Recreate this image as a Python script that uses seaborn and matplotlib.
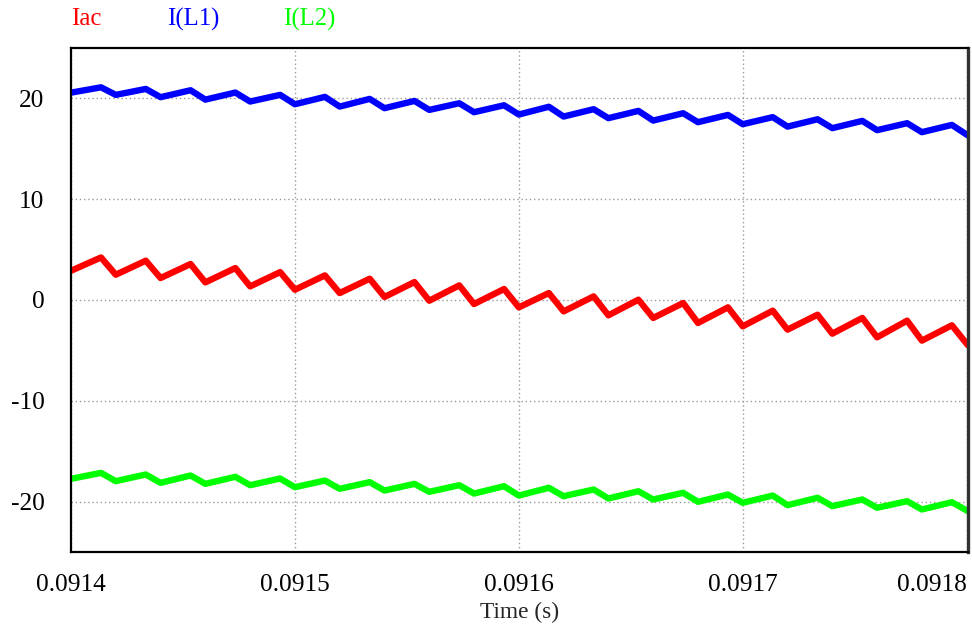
import numpy as np
import pandas as pd
import matplotlib
matplotlib.use("Agg")
import matplotlib.pyplot as plt
import seaborn as sns

# Switching instants (microseconds after t = 0.0914 s): start, then peak / trough pairs
t_start_us = 0.0
peak_us = [13.4, 33.4, 53.4, 73.4, 93.4, 113.4, 133.4, 153.4, 173.4, 193.4,
           213.4, 233.4, 253.4, 273.4, 293.4, 313.4, 333.4, 353.4, 373.4, 393.4]
trough_us = [20.0, 40.0, 60.0, 80.0, 100.0, 120.0, 140.0, 160.0, 180.0, 200.0,
             220.0, 240.0, 260.0, 280.0, 300.0, 320.0, 340.0, 360.0, 380.0, 400.6]

# Iac
iac_start = 2.9
iac_peaks = [4.22, 3.90, 3.57, 3.17, 2.77, 2.44, 2.11, 1.78, 1.45, 1.09,
             0.69, 0.36, 0.03, -0.30, -0.73, -1.06, -1.46, -1.78, -2.05, -2.51]
iac_troughs = [2.51, 2.18, 1.75, 1.35, 1.02, 0.69, 0.30, -0.07, -0.40, -0.73,
               -1.13, -1.52, -1.78, -2.28, -2.61, -2.94, -3.34, -3.70, -4.03, -4.50]

# I(L1)
il1_start = 20.57
il1_peaks = [21.10, 20.94, 20.81, 20.58, 20.35, 20.15, 19.95, 19.75, 19.52, 19.32,
             19.17, 18.93, 18.76, 18.53, 18.36, 18.14, 17.93, 17.77, 17.54, 17.37]
il1_troughs = [20.35, 20.12, 19.88, 19.69, 19.42, 19.19, 19.03, 18.86, 18.63, 18.40,
               18.20, 18.04, 17.80, 17.64, 17.44, 17.20, 17.05, 16.85, 16.65, 16.32]

# I(L2)
il2_start = -17.74
il2_peaks = [-17.15, -17.31, -17.41, -17.54, -17.71, -17.91, -18.07, -18.24, -18.37, -18.47,
             -18.63, -18.80, -18.97, -19.13, -19.30, -19.40, -19.62, -19.79, -19.96, -20.06]
il2_troughs = [-17.97, -18.14, -18.24, -18.37, -18.57, -18.73, -18.90, -19.03, -19.20, -19.40,
               -19.46, -19.69, -19.79, -20.02, -20.12, -20.35, -20.45, -20.61, -20.78, -20.95]

series_names = ["Iac", "I(L1)", "I(L2)"]
series_colors = ["#ff0000", "#0000ff", "#00ff00"]
x_ticks = [0.0914, 0.0915, 0.0916, 0.0917, 0.0918]
x_tick_labels = ["0.0914", "0.0915", "0.0916", "0.0917", "0.0918"]
y_ticks = [-20, -10, 0, 10, 20]


def waveform(start, peaks, troughs):
    times = [t_start_us]
    vals = [start]
    for tp, vp, tt, vt in zip(peak_us, peaks, trough_us, troughs):
        times += [tp, tt]
        vals += [vp, vt]
    return np.array(times), np.array(vals)


frames = []
for name, (s, p, tr) in zip(series_names, [(iac_start, iac_peaks, iac_troughs),
                                           (il1_start, il1_peaks, il1_troughs),
                                           (il2_start, il2_peaks, il2_troughs)]):
    tu, v = waveform(s, p, tr)
    frames.append(pd.DataFrame({"time": 0.0914 + tu * 1e-6, "current": v, "signal": name}))
df = pd.concat(frames, ignore_index=True)

sns.set_style("white")
plt.rcParams["font.family"] = ["Liberation Serif", "DejaVu Serif"]

fig = plt.figure(figsize=(9.72, 6.31), dpi=100)
ax = fig.add_axes([71 / 972, 1 - 552 / 631, (968 - 71) / 972, (552 - 48) / 631])

sns.lineplot(data=df, x="time", y="current", hue="signal", hue_order=series_names,
             palette=series_colors, linewidth=4.6, legend=False, ax=ax,
             sort=False, estimator=None)

ax.set_xlim(0.0914, 0.0914 + 400.6e-6)
ax.set_ylim(-25, 25)
ax.set_xticks(x_ticks)
ax.set_xticklabels(x_tick_labels)
ax.set_yticks(y_ticks)
ax.set_yticklabels([str(v) for v in y_ticks])
ax.tick_params(axis="both", length=0, labelsize=18.3, colors="black")
ax.tick_params(axis="y", pad=19)
ax.tick_params(axis="x", pad=16)
xlabels = ax.get_xticklabels()
xlabels[-1].set_horizontalalignment("right")

ax.grid(True, color="#9a9a9a", linestyle=(0, (1, 2)), linewidth=1.0)
ax.set_axisbelow(True)
for side in ["left", "bottom", "top"]:
    ax.spines[side].set_color("black")
    ax.spines[side].set_linewidth(1.6)
ax.spines["right"].set_color("#333333")
ax.spines["right"].set_linewidth(2.4)

ax.set_xlabel("Time (s)", fontsize=16.8, labelpad=4)
ax.set_ylabel("")

# Signal names across the top
for name, color, xpx in zip(series_names, series_colors, [71, 167, 283]):
    fig.text(xpx / 972, 1 - 19 / 631, name, color=color, fontsize=17.8,
             ha="left", va="center")

fig.savefig("out.png", dpi=100, facecolor="white")
